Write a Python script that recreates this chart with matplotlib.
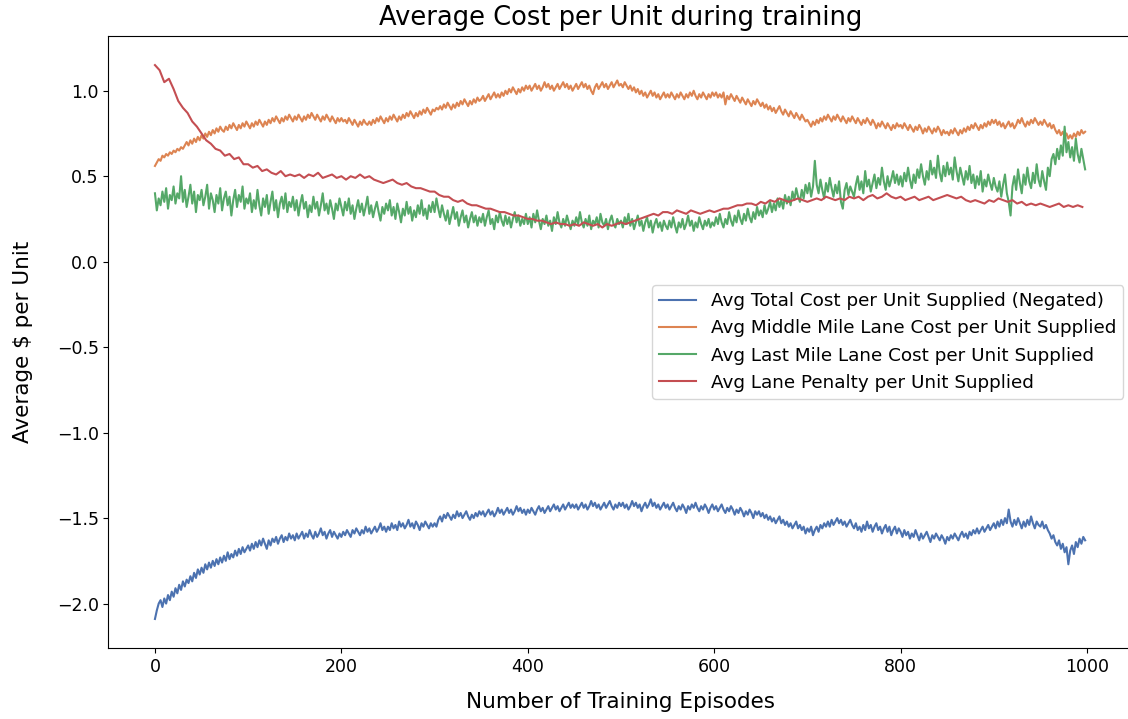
import numpy as np
import matplotlib
matplotlib.use("Agg")
import matplotlib.pyplot as plt

# episodes for the noisy series (every 2 episodes) and for the penalty (every 5)
episodes_fine = list(range(0, 1000, 2))
episodes_coarse = list(range(0, 1000, 5))

total_cost_neg = [
    -2.09, -2.04, -2.00, -1.98, -2.02, -1.97, -2.00, -1.95, -1.98, -1.93, -1.96, -1.91, -1.94, -1.89, -1.92, -1.87, -1.90, -1.86, -1.88, -1.84, -1.87, -1.82, -1.85, -1.80, -1.83,
    -1.79, -1.82, -1.77, -1.80, -1.76, -1.79, -1.75, -1.78, -1.74, -1.77, -1.73, -1.76, -1.72, -1.75, -1.70, -1.74, -1.71, -1.73, -1.69, -1.72, -1.68, -1.71, -1.67, -1.70, -1.68,
    -1.66, -1.69, -1.65, -1.68, -1.64, -1.67, -1.63, -1.66, -1.62, -1.65, -1.68, -1.63, -1.66, -1.62, -1.64, -1.61, -1.65, -1.62, -1.60, -1.64, -1.61, -1.63, -1.59, -1.62, -1.60,
    -1.63, -1.59, -1.62, -1.60, -1.58, -1.62, -1.59, -1.61, -1.57, -1.60, -1.62, -1.58, -1.61, -1.59, -1.56, -1.60, -1.58, -1.62, -1.59, -1.57, -1.61, -1.58, -1.60, -1.62, -1.59,
    -1.61, -1.58, -1.60, -1.57, -1.59, -1.61, -1.57, -1.59, -1.56, -1.58, -1.60, -1.57, -1.59, -1.55, -1.58, -1.56, -1.59, -1.57, -1.55, -1.58, -1.56, -1.53, -1.57, -1.55, -1.58,
    -1.55, -1.57, -1.53, -1.56, -1.54, -1.57, -1.52, -1.55, -1.53, -1.56, -1.54, -1.51, -1.55, -1.53, -1.56, -1.52, -1.54, -1.57, -1.53, -1.55, -1.52, -1.54, -1.56, -1.53, -1.55,
    -1.53, -1.55, -1.51, -1.49, -1.52, -1.48, -1.50, -1.47, -1.49, -1.51, -1.48, -1.50, -1.46, -1.49, -1.47, -1.50, -1.48, -1.46, -1.49, -1.51, -1.48, -1.50, -1.47, -1.49, -1.46,
    -1.48, -1.46, -1.49, -1.47, -1.45, -1.48, -1.46, -1.49, -1.47, -1.44, -1.47, -1.45, -1.48, -1.46, -1.44, -1.47, -1.45, -1.48, -1.46, -1.43, -1.46, -1.44, -1.47, -1.45, -1.48,
    -1.45, -1.47, -1.44, -1.46, -1.48, -1.45, -1.43, -1.46, -1.44, -1.47, -1.45, -1.43, -1.46, -1.44, -1.42, -1.45, -1.43, -1.46, -1.44, -1.42, -1.45, -1.43, -1.41, -1.44, -1.42,
    -1.44, -1.42, -1.45, -1.43, -1.41, -1.44, -1.42, -1.45, -1.43, -1.40, -1.43, -1.41, -1.44, -1.42, -1.45, -1.43, -1.41, -1.44, -1.42, -1.40, -1.43, -1.45, -1.42, -1.44, -1.41,
    -1.43, -1.41, -1.44, -1.42, -1.45, -1.43, -1.40, -1.43, -1.41, -1.44, -1.42, -1.46, -1.43, -1.41, -1.44, -1.42, -1.39, -1.43, -1.41, -1.44, -1.42, -1.45, -1.43, -1.41, -1.44,
    -1.42, -1.45, -1.43, -1.41, -1.44, -1.46, -1.43, -1.45, -1.42, -1.44, -1.47, -1.43, -1.45, -1.42, -1.44, -1.41, -1.44, -1.46, -1.43, -1.45, -1.42, -1.44, -1.47, -1.44, -1.42,
    -1.45, -1.43, -1.46, -1.44, -1.42, -1.45, -1.47, -1.44, -1.46, -1.43, -1.45, -1.48, -1.45, -1.47, -1.44, -1.46, -1.49, -1.46, -1.48, -1.45, -1.47, -1.50, -1.46, -1.48, -1.46,
    -1.49, -1.47, -1.50, -1.48, -1.51, -1.49, -1.52, -1.50, -1.53, -1.51, -1.49, -1.53, -1.51, -1.54, -1.52, -1.55, -1.53, -1.56, -1.54, -1.52, -1.56, -1.54, -1.57, -1.55, -1.59,
    -1.56, -1.58, -1.55, -1.60, -1.57, -1.55, -1.58, -1.54, -1.56, -1.53, -1.55, -1.52, -1.55, -1.51, -1.54, -1.52, -1.50, -1.53, -1.51, -1.54, -1.52, -1.55, -1.53, -1.51, -1.54,
    -1.56, -1.53, -1.57, -1.55, -1.58, -1.54, -1.57, -1.52, -1.56, -1.54, -1.58, -1.55, -1.53, -1.57, -1.55, -1.59, -1.56, -1.54, -1.58, -1.55, -1.60, -1.57, -1.55, -1.59, -1.56,
    -1.58, -1.61, -1.57, -1.60, -1.58, -1.62, -1.59, -1.61, -1.57, -1.60, -1.63, -1.59, -1.62, -1.60, -1.58, -1.61, -1.64, -1.60, -1.62, -1.59, -1.61, -1.63, -1.60, -1.62, -1.65,
    -1.61, -1.63, -1.60, -1.62, -1.59, -1.61, -1.63, -1.60, -1.58, -1.61, -1.59, -1.62, -1.58, -1.60, -1.57, -1.59, -1.56, -1.59, -1.57, -1.55, -1.58, -1.56, -1.54, -1.57, -1.55,
    -1.53, -1.56, -1.52, -1.55, -1.51, -1.54, -1.50, -1.53, -1.45, -1.52, -1.55, -1.51, -1.54, -1.50, -1.53, -1.56, -1.52, -1.55, -1.51, -1.54, -1.49, -1.53, -1.56, -1.52, -1.54,
    -1.55, -1.52, -1.56, -1.54, -1.57, -1.59, -1.62, -1.60, -1.64, -1.66, -1.63, -1.68, -1.65, -1.70, -1.67, -1.77, -1.69, -1.66, -1.71, -1.64, -1.67, -1.62, -1.65, -1.61, -1.63,
]

middle_mile_cost = [
    0.56, 0.58, 0.60, 0.59, 0.62, 0.61, 0.63, 0.62, 0.64, 0.63, 0.65, 0.64, 0.66, 0.65, 0.67, 0.66, 0.68, 0.70, 0.68, 0.71, 0.69, 0.72, 0.70, 0.73, 0.71,
    0.74, 0.72, 0.75, 0.73, 0.76, 0.74, 0.77, 0.75, 0.78, 0.76, 0.79, 0.77, 0.76, 0.79, 0.77, 0.80, 0.78, 0.81, 0.79, 0.77, 0.80, 0.78, 0.81, 0.79, 0.82,
    0.80, 0.78, 0.81, 0.79, 0.82, 0.80, 0.83, 0.81, 0.79, 0.82, 0.80, 0.83, 0.81, 0.84, 0.82, 0.85, 0.83, 0.81, 0.84, 0.82, 0.85, 0.83, 0.86, 0.84, 0.82,
    0.85, 0.83, 0.86, 0.84, 0.82, 0.85, 0.83, 0.86, 0.84, 0.87, 0.85, 0.83, 0.86, 0.84, 0.82, 0.85, 0.83, 0.86, 0.84, 0.82, 0.85, 0.83, 0.81, 0.84, 0.82,
    0.84, 0.82, 0.83, 0.81, 0.84, 0.82, 0.80, 0.83, 0.81, 0.79, 0.82, 0.80, 0.83, 0.81, 0.80, 0.82, 0.80, 0.83, 0.81, 0.84, 0.82, 0.85, 0.83, 0.81, 0.84,
    0.82, 0.85, 0.83, 0.86, 0.84, 0.82, 0.85, 0.83, 0.86, 0.84, 0.87, 0.85, 0.88, 0.86, 0.84, 0.87, 0.85, 0.88, 0.86, 0.89, 0.87, 0.90, 0.88, 0.86, 0.89,
    0.88, 0.90, 0.89, 0.91, 0.89, 0.92, 0.90, 0.93, 0.91, 0.89, 0.92, 0.90, 0.93, 0.91, 0.94, 0.92, 0.95, 0.93, 0.91, 0.94, 0.92, 0.95, 0.93, 0.96, 0.94,
    0.95, 0.97, 0.94, 0.96, 0.98, 0.95, 0.97, 0.99, 0.96, 0.98, 0.96, 0.99, 0.97, 1.00, 0.98, 1.01, 0.99, 1.02, 1.00, 0.98, 1.01, 0.99, 1.02, 1.00, 1.03,
    1.01, 1.03, 1.00, 1.02, 1.04, 1.01, 1.03, 1.00, 1.02, 1.05, 1.02, 1.04, 1.01, 1.03, 1.00, 1.02, 1.04, 1.01, 1.03, 1.05, 1.02, 1.04, 1.01, 1.03, 1.00,
    1.02, 1.04, 1.01, 1.03, 1.05, 1.02, 1.04, 1.01, 1.03, 1.00, 0.98, 1.02, 1.04, 1.01, 1.03, 1.05, 1.02, 1.04, 1.01, 1.03, 1.05, 1.02, 1.04, 1.06, 1.03,
    1.04, 1.02, 1.05, 1.03, 1.01, 1.03, 1.00, 1.02, 0.99, 1.01, 0.98, 1.00, 0.97, 0.99, 0.96, 0.98, 1.00, 0.97, 0.99, 0.96, 0.98, 0.95, 0.97, 0.99, 0.96,
    0.98, 0.96, 0.99, 0.97, 0.95, 0.98, 0.96, 0.99, 0.97, 0.95, 0.98, 0.96, 0.99, 0.97, 1.00, 0.97, 0.95, 0.98, 0.96, 0.99, 0.97, 0.95, 0.98, 0.96, 0.99,
    0.97, 0.99, 0.96, 0.98, 0.96, 0.99, 0.92, 0.97, 0.95, 0.98, 0.96, 0.94, 0.97, 0.95, 0.93, 0.96, 0.94, 0.92, 0.95, 0.93, 0.91, 0.94, 0.92, 0.95, 0.93,
    0.91, 0.93, 0.90, 0.92, 0.89, 0.91, 0.88, 0.90, 0.87, 0.89, 0.91, 0.88, 0.86, 0.89, 0.87, 0.85, 0.88, 0.86, 0.84, 0.87, 0.85, 0.83, 0.86, 0.84, 0.82,
    0.83, 0.81, 0.79, 0.82, 0.80, 0.83, 0.81, 0.84, 0.82, 0.85, 0.83, 0.86, 0.84, 0.82, 0.85, 0.83, 0.86, 0.84, 0.82, 0.85, 0.83, 0.81, 0.84, 0.82, 0.85,
    0.83, 0.81, 0.84, 0.82, 0.80, 0.83, 0.81, 0.84, 0.82, 0.80, 0.83, 0.81, 0.78, 0.81, 0.79, 0.82, 0.80, 0.78, 0.81, 0.79, 0.77, 0.80, 0.78, 0.81, 0.79,
    0.80, 0.78, 0.81, 0.79, 0.77, 0.80, 0.78, 0.76, 0.79, 0.77, 0.80, 0.78, 0.75, 0.78, 0.76, 0.79, 0.77, 0.75, 0.78, 0.76, 0.79, 0.77, 0.74, 0.77, 0.75,
    0.76, 0.74, 0.77, 0.75, 0.78, 0.76, 0.74, 0.77, 0.75, 0.78, 0.76, 0.79, 0.77, 0.80, 0.78, 0.81, 0.79, 0.77, 0.80, 0.78, 0.81, 0.79, 0.82, 0.80, 0.83,
    0.81, 0.83, 0.80, 0.82, 0.79, 0.81, 0.78, 0.80, 0.82, 0.79, 0.81, 0.78, 0.80, 0.83, 0.81, 0.84, 0.81, 0.79, 0.82, 0.80, 0.83, 0.81, 0.84, 0.82, 0.80,
    0.82, 0.80, 0.83, 0.81, 0.79, 0.81, 0.78, 0.80, 0.77, 0.75, 0.77, 0.74, 0.76, 0.73, 0.75, 0.72, 0.74, 0.72, 0.75, 0.73, 0.76, 0.74, 0.77, 0.75, 0.76,
]

last_mile_cost = [
    0.40, 0.30, 0.37, 0.33, 0.41, 0.35, 0.43, 0.31, 0.39, 0.36, 0.44, 0.34, 0.40, 0.37, 0.50, 0.35, 0.42, 0.32, 0.38, 0.45, 0.34, 0.41, 0.29, 0.39, 0.36,
    0.42, 0.33, 0.38, 0.45, 0.31, 0.40, 0.36, 0.29, 0.39, 0.34, 0.43, 0.30, 0.37, 0.41, 0.33, 0.38, 0.27, 0.36, 0.42, 0.32, 0.39, 0.35, 0.44, 0.31, 0.37,
    0.34, 0.40, 0.29, 0.36, 0.31, 0.42, 0.33, 0.27, 0.37, 0.32, 0.39, 0.28, 0.35, 0.41, 0.30, 0.36, 0.26, 0.34, 0.38, 0.31, 0.40, 0.29, 0.35, 0.32, 0.38,
    0.30, 0.36, 0.27, 0.34, 0.39, 0.31, 0.35, 0.26, 0.33, 0.29, 0.38, 0.31, 0.35, 0.27, 0.33, 0.40, 0.30, 0.34, 0.28, 0.36, 0.31, 0.25, 0.34, 0.30, 0.37,
    0.32, 0.27, 0.35, 0.30, 0.37, 0.28, 0.33, 0.25, 0.31, 0.36, 0.29, 0.34, 0.27, 0.32, 0.38, 0.28, 0.33, 0.26, 0.31, 0.35, 0.29, 0.24, 0.32, 0.28, 0.34,
    0.30, 0.36, 0.27, 0.32, 0.25, 0.34, 0.29, 0.23, 0.31, 0.27, 0.35, 0.28, 0.32, 0.24, 0.30, 0.26, 0.33, 0.28, 0.36, 0.27, 0.31, 0.25, 0.33, 0.29, 0.35,
    0.29, 0.37, 0.31, 0.26, 0.33, 0.28, 0.24, 0.30, 0.22, 0.27, 0.32, 0.25, 0.29, 0.21, 0.26, 0.30, 0.23, 0.27, 0.20, 0.25, 0.29, 0.23, 0.27, 0.21, 0.26,
    0.23, 0.28, 0.21, 0.26, 0.30, 0.22, 0.25, 0.19, 0.27, 0.23, 0.29, 0.24, 0.21, 0.27, 0.22, 0.26, 0.20, 0.25, 0.29, 0.23, 0.27, 0.21, 0.25, 0.22, 0.28,
    0.22, 0.26, 0.20, 0.28, 0.23, 0.30, 0.24, 0.19, 0.25, 0.22, 0.27, 0.21, 0.24, 0.18, 0.26, 0.22, 0.29, 0.23, 0.20, 0.25, 0.21, 0.27, 0.23, 0.19, 0.24,
    0.21, 0.26, 0.22, 0.29, 0.23, 0.20, 0.25, 0.21, 0.27, 0.19, 0.24, 0.22, 0.26, 0.20, 0.28, 0.23, 0.21, 0.25, 0.19, 0.24, 0.27, 0.22, 0.20, 0.25, 0.22,
    0.24, 0.20, 0.26, 0.22, 0.28, 0.21, 0.25, 0.19, 0.23, 0.27, 0.21, 0.24, 0.18, 0.23, 0.26, 0.20, 0.24, 0.17, 0.22, 0.25, 0.20, 0.23, 0.18, 0.24, 0.21,
    0.19, 0.24, 0.20, 0.26, 0.21, 0.17, 0.23, 0.20, 0.25, 0.19, 0.22, 0.27, 0.21, 0.24, 0.18, 0.23, 0.20, 0.26, 0.22, 0.19, 0.24, 0.21, 0.25, 0.20, 0.23,
    0.21, 0.26, 0.22, 0.28, 0.23, 0.20, 0.25, 0.22, 0.29, 0.24, 0.21, 0.27, 0.23, 0.30, 0.25, 0.22, 0.28, 0.24, 0.31, 0.26, 0.23, 0.29, 0.25, 0.32, 0.27,
    0.30, 0.26, 0.33, 0.28, 0.31, 0.35, 0.29, 0.34, 0.30, 0.37, 0.32, 0.36, 0.31, 0.39, 0.34, 0.38, 0.33, 0.41, 0.36, 0.43, 0.38, 0.35, 0.42, 0.37, 0.45,
    0.40, 0.46, 0.38, 0.44, 0.59, 0.45, 0.40, 0.48, 0.42, 0.37, 0.46, 0.41, 0.49, 0.43, 0.38, 0.45, 0.40, 0.47, 0.35, 0.31, 0.42, 0.46, 0.39, 0.44, 0.41,
    0.38, 0.45, 0.50, 0.42, 0.47, 0.40, 0.53, 0.44, 0.48, 0.41, 0.46, 0.51, 0.43, 0.49, 0.45, 0.55, 0.47, 0.42, 0.50, 0.44, 0.48, 0.53, 0.46, 0.51, 0.45,
    0.50, 0.44, 0.52, 0.47, 0.55, 0.48, 0.43, 0.51, 0.46, 0.54, 0.49, 0.57, 0.50, 0.45, 0.53, 0.48, 0.59, 0.51, 0.55, 0.49, 0.62, 0.52, 0.47, 0.56, 0.50,
    0.58, 0.51, 0.55, 0.48, 0.61, 0.53, 0.47, 0.55, 0.50, 0.45, 0.53, 0.48, 0.56, 0.46, 0.51, 0.43, 0.50, 0.45, 0.53, 0.41, 0.48, 0.44, 0.51, 0.46, 0.42,
    0.49, 0.44, 0.41, 0.47, 0.38, 0.45, 0.51, 0.40, 0.35, 0.27, 0.44, 0.50, 0.42, 0.54, 0.46, 0.40, 0.51, 0.45, 0.55, 0.47, 0.43, 0.52, 0.46, 0.57, 0.48,
    0.44, 0.53, 0.47, 0.42, 0.55, 0.50, 0.60, 0.63, 0.57, 0.66, 0.60, 0.68, 0.62, 0.79, 0.64, 0.70, 0.61, 0.67, 0.59, 0.72, 0.63, 0.58, 0.66, 0.60, 0.54,
]

lane_penalty = [
    1.15, 1.12, 1.05, 1.07, 1.01, 0.94, 0.90, 0.87, 0.82, 0.79,
    0.75, 0.71, 0.69, 0.66, 0.65, 0.62, 0.63, 0.60, 0.61, 0.57,
    0.57, 0.55, 0.56, 0.53, 0.54, 0.52, 0.51, 0.53, 0.50, 0.51,
    0.50, 0.51, 0.49, 0.51, 0.50, 0.52, 0.49, 0.50, 0.51, 0.49,
    0.50, 0.48, 0.50, 0.49, 0.51, 0.49, 0.50, 0.48, 0.47, 0.46,
    0.47, 0.48, 0.46, 0.45, 0.46, 0.44, 0.43, 0.43, 0.42, 0.41,
    0.41, 0.39, 0.38, 0.38, 0.36, 0.35, 0.36, 0.34, 0.33, 0.33,
    0.32, 0.31, 0.31, 0.30, 0.29, 0.29, 0.28, 0.27, 0.27, 0.26,
    0.25, 0.25, 0.24, 0.24, 0.23, 0.22, 0.23, 0.22, 0.22, 0.21,
    0.22, 0.21, 0.23, 0.22, 0.21, 0.22, 0.20, 0.22, 0.21, 0.22,
    0.23, 0.22, 0.23, 0.24, 0.25, 0.26, 0.27, 0.28, 0.27, 0.29,
    0.29, 0.28, 0.30, 0.29, 0.28, 0.30, 0.29, 0.28, 0.29, 0.30,
    0.29, 0.30, 0.31, 0.31, 0.32, 0.33, 0.33, 0.34, 0.34, 0.33,
    0.35, 0.34, 0.36, 0.35, 0.37, 0.36, 0.35, 0.36, 0.37, 0.36,
    0.35, 0.36, 0.37, 0.36, 0.38, 0.37, 0.36, 0.37, 0.36, 0.38,
    0.37, 0.38, 0.36, 0.38, 0.39, 0.37, 0.38, 0.40, 0.38, 0.37,
    0.38, 0.36, 0.37, 0.38, 0.36, 0.37, 0.38, 0.36, 0.37, 0.38,
    0.39, 0.38, 0.37, 0.38, 0.36, 0.35, 0.36, 0.35, 0.34, 0.36,
    0.35, 0.37, 0.36, 0.35, 0.36, 0.34, 0.35, 0.33, 0.34, 0.33,
    0.34, 0.33, 0.32, 0.33, 0.34, 0.32, 0.33, 0.32, 0.33, 0.32,
]

series_labels = [
    "Avg Total Cost per Unit Supplied (Negated)",
    "Avg Middle Mile Lane Cost per Unit Supplied",
    "Avg Last Mile Lane Cost per Unit Supplied",
    "Avg Lane Penalty per Unit Supplied",
]
series_colors = ["#4C72B0", "#DD8452", "#55A868", "#C44E52"]

fig = plt.figure(figsize=(11.28, 7.19), dpi=100)
ax = fig.add_axes([0.0961, 0.0987, 0.908, 0.8512])

series = [
    (episodes_fine, total_cost_neg),
    (episodes_fine, middle_mile_cost),
    (episodes_fine, last_mile_cost),
    (episodes_coarse, lane_penalty),
]
for (xs, vals), lab, col in zip(series, series_labels, series_colors):
    ax.plot(xs, vals, color=col, linewidth=1.5, label=lab)

ax.set_xlim(-49.95, 1048.95)
ax.set_ylim(-2.26, 1.32)
ax.set_xticks([0, 200, 400, 600, 800, 1000])
ax.set_yticks([-2.0, -1.5, -1.0, -0.5, 0.0, 0.5, 1.0])
ax.tick_params(labelsize=12.5)
ax.spines["right"].set_visible(False)
ax.set_title("Average Cost per Unit during training", fontsize=18.5, pad=8)
ax.set_xlabel("Number of Training Episodes", fontsize=15.5, labelpad=12)
ax.set_ylabel("Average $ per Unit", fontsize=15.5, labelpad=17)
ax.legend(loc="center right", fontsize=13.2)

fig.savefig("out.png", dpi=100)
